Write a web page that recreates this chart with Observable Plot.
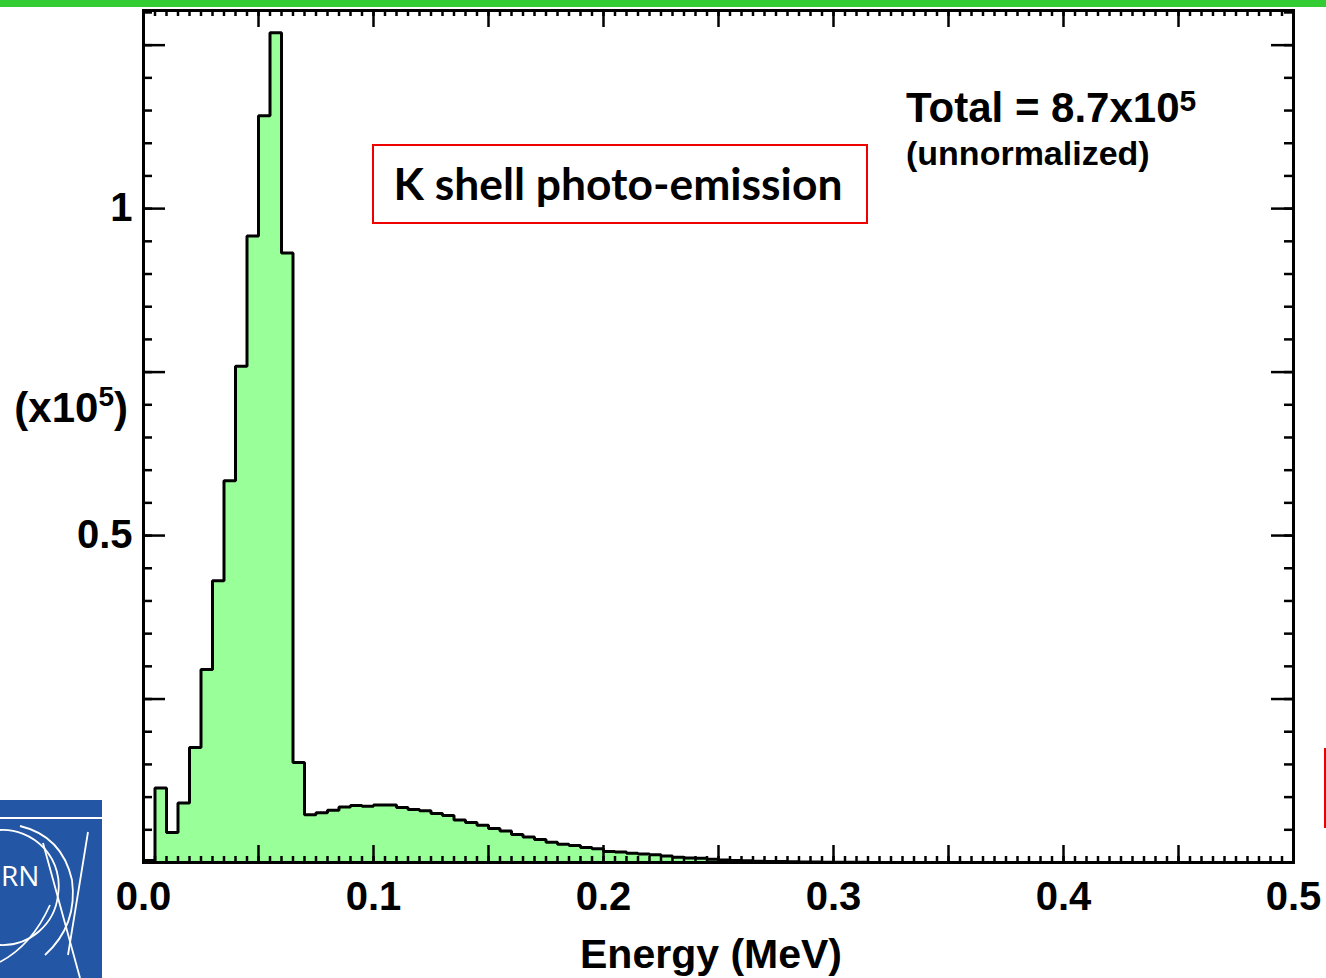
<!DOCTYPE html>
<html>
<head>
<meta charset="utf-8">
<script src="https://cdn.jsdelivr.net/npm/d3@7"></script>
<script src="https://cdn.jsdelivr.net/npm/@observablehq/plot@0.6"></script>
<style>
  html, body { margin: 0; padding: 0; background: #fff; overflow: hidden; }
  #wrap { position: relative; width: 1326px; height: 978px; }
  #wrap svg { display: block; }
</style>
</head>
<body>
<div id="wrap"></div>
<script>
// ---------------- data ----------------
const binWidth = 0.005;            // MeV
const xDomain = [0, 0.5];          // MeV
const yDomain = [0, 1.303];        // x1e5 counts
// counts per 0.005 MeV bin, in units of 1e5
const counts = [
  0.003, 0.114, 0.046, 0.091, 0.176, 0.295, 0.431, 0.584, 0.759, 0.958,
  1.142, 1.269, 0.932, 0.153, 0.073, 0.076, 0.080, 0.085, 0.087, 0.086,
  0.088, 0.088, 0.084, 0.081, 0.079, 0.075, 0.072, 0.065, 0.061, 0.057,
  0.052, 0.048, 0.043, 0.039, 0.035, 0.031, 0.028, 0.026, 0.023, 0.021,
  0.017, 0.016, 0.014, 0.013, 0.012, 0.010, 0.008, 0.007, 0.0065, 0.005,
  0.004, 0.003, 0.0025, 0.002, 0.0017, 0.0014, 0.0011, 0.0009, 0.0007, 0.0005,
  0.0004, 0.0003, 0.0002, 0.0001, 0.0001, 0.0001, 0.0001, 0.0001, 0.0001, 0.0001,
  0, 0, 0, 0, 0, 0, 0, 0, 0, 0,
  0, 0, 0, 0, 0, 0, 0, 0, 0, 0,
  0, 0, 0, 0, 0, 0, 0, 0, 0, 0
];
const binStarts = counts.map((_, i) => i * binWidth);
const xTickLabels = [0.0, 0.1, 0.2, 0.3, 0.4, 0.5];
const yTickLabels = [0.5, 1];
const xMajorTicks = [0, 0.05, 0.1, 0.15, 0.2, 0.25, 0.3, 0.35, 0.4, 0.45, 0.5];
const yMajorTicks = [0, 0.25, 0.5, 0.75, 1.0, 1.25];
const xMinorTicks = d3.range(0, 101).map(i => i * 0.005);
const yMinorTicks = d3.range(0, 27).map(i => i * 0.05);

// ---------------- layout ----------------
const W = 1326, H = 978;
const mL = 143, mR = 33, mT = 10, mB = 116;
const fw = W - mL - mR, fh = H - mT - mB;
const font = "'Liberation Sans', Arial, Helvetica, sans-serif";

const steps = binStarts.map((x, i) => ({x, y: counts[i]}))
  .concat([{x: xDomain[1], y: counts[counts.length - 1]}]);

const tick = {stroke: "black", strokeWidth: 2.5};

const chart = Plot.plot({
  width: W, height: H,
  marginLeft: mL, marginRight: mR, marginTop: mT, marginBottom: mB,
  style: {background: "transparent", overflow: "visible"},
  x: {domain: xDomain},
  y: {domain: yDomain},
  marks: [
    Plot.areaY(steps, {x: "x", y: "y", curve: "step-after", fill: "#99ff99"}),
    // inward ticks: bottom / top
    Plot.tickX(xMinorTicks, {x: d => d, ...tick, insetTop: fh - 6}),
    Plot.tickX(xMinorTicks, {x: d => d, ...tick, insetBottom: fh - 6}),
    Plot.tickX(xMajorTicks, {x: d => d, ...tick, insetTop: fh - 17}),
    Plot.tickX(xMajorTicks, {x: d => d, ...tick, insetBottom: fh - 17}),
    // inward ticks: left / right
    Plot.tickY(yMinorTicks, {y: d => d, ...tick, insetRight: fw - 9}),
    Plot.tickY(yMinorTicks, {y: d => d, ...tick, insetLeft: fw - 9}),
    Plot.tickY(yMajorTicks, {y: d => d, ...tick, insetRight: fw - 22}),
    Plot.tickY(yMajorTicks, {y: d => d, ...tick, insetLeft: fw - 22}),
    Plot.lineY(steps, {x: "x", y: "y", curve: "step-after", stroke: "black",
      strokeWidth: 3, strokeLinejoin: "miter", strokeLinecap: "square"}),
    Plot.frame({stroke: "black", strokeWidth: 3}),
    Plot.axisX(xTickLabels, {anchor: "bottom", tickSize: 0, tickPadding: 19, label: null,
      tickFormat: d3.format(".1f"), fontSize: 40, fontWeight: "bold", fontFamily: font, fill: "black"}),
    Plot.axisY(yTickLabels, {anchor: "left", tickSize: 0, tickPadding: 11, label: null,
      tickFormat: d => String(d), fontSize: 40, fontWeight: "bold", fontFamily: font, fill: "black"})
  ]
});
document.getElementById("wrap").appendChild(chart);

// ---------------- annotations ----------------
const svg = d3.select(chart);
const g = svg.append("g").attr("font-family", font).attr("font-weight", "bold")
  .attr("fill", "black").attr("text-anchor", "start");

function supText(x, y, main, sup, size, supSize, rise, extra, anchor) {
  const t = g.append("text").attr("x", x).attr("y", y).attr("font-size", size)
    .attr("text-anchor", anchor || "start");
  t.append("tspan").text(main);
  if (sup) t.append("tspan").attr("font-size", supSize).attr("dy", -rise).text(sup);
  if (extra) t.append("tspan").attr("dy", rise).text(extra);
  return t;
}
supText(906, 122, "Total = 8.7x10", "5", 42, 30, 11);
g.append("text").attr("x", 906).attr("y", 165).attr("font-size", 34)
  .attr("text-anchor", "start").text("(unnormalized)");
supText(128, 422, "(x10", "5", 42, 28, 16, ")", "end");
g.append("text").attr("x", 711).attr("y", 968).attr("font-size", 41)
  .attr("text-anchor", "middle").text("Energy (MeV)");

// red box with label
svg.append("rect").attr("x", 373).attr("y", 145).attr("width", 494).attr("height", 78)
  .attr("fill", "none").attr("stroke", "#ee0000").attr("stroke-width", 2);
const k = svg.append("text").attr("x", 618).attr("y", 200).attr("text-anchor", "middle")
  .attr("font-family", "Lato, 'Open Sans', sans-serif").attr("font-weight", "bold")
  .attr("font-size", 44).attr("fill", "black").text("K shell photo-emission");
const len = k.node().getComputedTextLength();
if (len > 0) k.attr("font-size", 44 * 449 / len);

// slide decorations: green title bar, red box edge at right, CERN logo
svg.append("rect").attr("x", 0).attr("y", 0).attr("width", W).attr("height", 7).attr("fill", "#33cc33");
svg.append("line").attr("x1", 1325).attr("x2", 1325).attr("y1", 748).attr("y2", 828)
  .attr("stroke", "#ee0000").attr("stroke-width", 2);
const logo = svg.append("g");
logo.append("rect").attr("x", 0).attr("y", 800).attr("width", 102).attr("height", 178).attr("fill", "#2356a4");
function L(el) { return el.attr("stroke", "white").attr("stroke-width", 1.8).attr("fill", "none"); }
L(logo.append("line").attr("x1", 0).attr("x2", 102).attr("y1", 818).attr("y2", 818));
L(logo.append("path").attr("d", "M0,830 A56,56 0 0,1 58,895 A56,56 0 0,1 0,945"));
L(logo.append("path").attr("d", "M20,826 Q62,836 72,880 Q78,925 45,955"));
L(logo.append("line").attr("x1", 43).attr("y1", 843).attr("x2", 80).attr("y2", 978));
L(logo.append("line").attr("x1", 88).attr("y1", 832).attr("x2", 68).attr("y2", 955));
L(logo.append("path").attr("d", "M0,962 Q32,945 50,905"));
logo.append("text").attr("x", 1).attr("y", 886).attr("text-anchor", "start")
  .attr("font-family", "'Open Sans', sans-serif")
  .attr("font-size", 28).attr("fill", "white").text("RN");
</script>
</body>
</html>
